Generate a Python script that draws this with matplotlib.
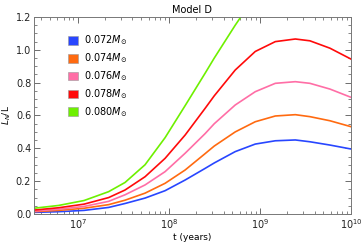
import numpy as np
import matplotlib
matplotlib.use('Agg')
import matplotlib.pyplot as plt
from matplotlib.patches import Patch
from matplotlib.ticker import MultipleLocator, LogLocator, NullFormatter, FormatStrFormatter

# log10(t / years)
logt = [6.52, 6.79, 7.07, 7.34, 7.52, 7.74, 7.96, 8.18, 8.4, 8.5, 8.73, 8.95,
        9.17, 9.39, 9.55, 9.77, 10.0]
logt_green = logt[:12]

lum_072 = [0.010, 0.014, 0.022, 0.040, 0.064, 0.097, 0.142, 0.207, 0.278, 0.311,
           0.380, 0.426, 0.446, 0.451, 0.440, 0.420, 0.396]
lum_074 = [0.014, 0.022, 0.035, 0.057, 0.084, 0.127, 0.187, 0.268, 0.368, 0.414,
           0.500, 0.562, 0.597, 0.605, 0.593, 0.568, 0.532]
lum_076 = [0.018, 0.029, 0.046, 0.077, 0.117, 0.177, 0.258, 0.370, 0.490, 0.550,
           0.664, 0.745, 0.796, 0.806, 0.796, 0.761, 0.711]
lum_078 = [0.024, 0.038, 0.060, 0.100, 0.146, 0.227, 0.339, 0.481, 0.644, 0.720,
           0.877, 0.990, 1.050, 1.066, 1.055, 1.010, 0.944]
lum_080 = [0.035, 0.052, 0.082, 0.136, 0.192, 0.300, 0.465, 0.660, 0.858, 0.950,
           1.150, 1.330]

labels = ['0.072', '0.074', '0.076', '0.078', '0.080']
colors = ['#2846ff', '#ff6a10', '#ff6ea6', '#ff0a0a', '#6ef000']

series = [(logt, lum_072), (logt, lum_074), (logt, lum_076), (logt, lum_078),
          (logt_green, lum_080)]

fig = plt.figure(figsize=(3.61, 2.5), dpi=100)
ax = fig.add_axes([0.094, 0.144, 0.878, 0.788])

for (lx, ly), c in zip(series, colors):
    ax.plot(10 ** np.array(lx), ly, color=c, lw=1.2, solid_joinstyle='round')

ax.set_xscale('log')
ax.set_xlim(10 ** 6.52, 1e10)
ax.set_ylim(0, 1.2)
ax.yaxis.set_major_locator(MultipleLocator(0.2))
ax.yaxis.set_minor_locator(MultipleLocator(0.05))
ax.yaxis.set_major_formatter(FormatStrFormatter('%.1f'))
ax.xaxis.set_major_locator(LogLocator(base=10))
ax.xaxis.set_minor_locator(LogLocator(base=10, subs=np.arange(2, 10)))
ax.xaxis.set_minor_formatter(NullFormatter())

ax.tick_params(which='both', direction='in', top=True, right=True, colors='#555555',
               labelcolor='#222222', labelsize=7, pad=2)
ax.tick_params(which='major', length=4, width=0.6)
ax.tick_params(which='minor', length=2, width=0.5)
for s in ax.spines.values():
    s.set_color('#777777')
    s.set_linewidth(0.7)

ax.set_title('Model D', fontsize=7, pad=3)
ax.set_xlabel('t (years)', fontsize=6.5, labelpad=2)
ax.set_ylabel('$L_N$/L', fontsize=6.5, labelpad=2)

handles = [Patch(facecolor=c, edgecolor='#999999', linewidth=0.4) for c in colors]
ax.legend(handles, [l + r'$M_{\odot}$' for l in labels], loc='upper left',
          bbox_to_anchor=(0.08, 0.96), frameon=False, fontsize=7,
          handlelength=1.0, handleheight=1.0, handletextpad=0.6, labelspacing=0.42)

fig.savefig('out.png', dpi=100)
